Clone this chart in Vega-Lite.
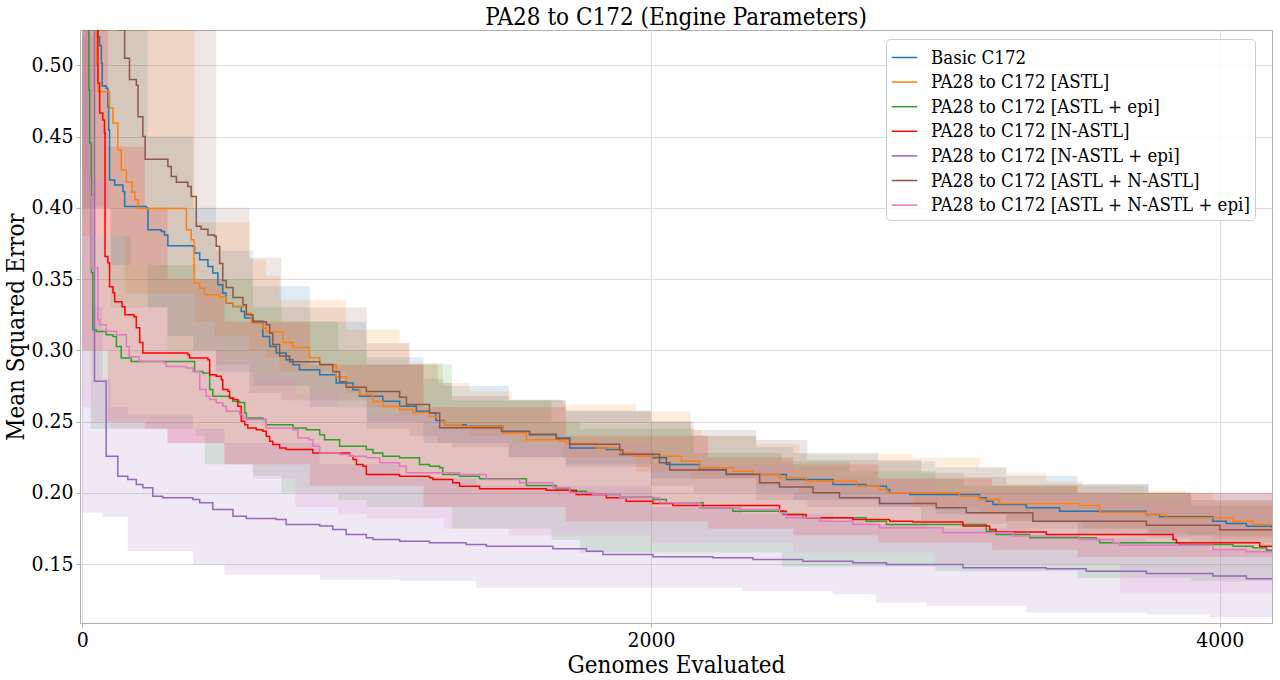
{
  "$schema": "https://vega.github.io/schema/vega-lite/v6.json",
  "width": 1192,
  "height": 593,
  "autosize": {"type": "none"},
  "padding": {"left": 80, "top": 30, "right": 8, "bottom": 57},
  "title": {"text": "PA28 to C172 (Engine Parameters)", "font": "DejaVu Serif Condensed", "fontSize": 24, "fontWeight": "normal", "color": "#000000", "offset": 0},
  "config": {
    "font": "DejaVu Serif Condensed",
    "view": {"stroke": "#b0b0b0", "strokeWidth": 1},
    "axis": {
      "labelFont": "DejaVu Serif Condensed", "labelFontSize": 21, "labelColor": "#000000",
      "titleFont": "DejaVu Serif Condensed", "titleFontSize": 24, "titleFontWeight": "normal", "titleColor": "#000000",
      "gridColor": "#dcdcdc", "gridWidth": 1, "domain": false,
      "tickColor": "#b0b0b0", "tickSize": 4
    }
  },
  "datasets": {
    "bands": [
      {"run": "Basic C172", "x": 0, "lo": 0.40, "hi": 0.60},
      {"run": "Basic C172", "x": 100, "lo": 0.36, "hi": 0.60},
      {"run": "Basic C172", "x": 230, "lo": 0.33, "hi": 0.45},
      {"run": "Basic C172", "x": 300, "lo": 0.31, "hi": 0.45},
      {"run": "Basic C172", "x": 390, "lo": 0.30, "hi": 0.40},
      {"run": "Basic C172", "x": 470, "lo": 0.285, "hi": 0.37},
      {"run": "Basic C172", "x": 600, "lo": 0.275, "hi": 0.345},
      {"run": "Basic C172", "x": 800, "lo": 0.26, "hi": 0.32},
      {"run": "Basic C172", "x": 1000, "lo": 0.25, "hi": 0.295},
      {"run": "Basic C172", "x": 1200, "lo": 0.235, "hi": 0.28},
      {"run": "Basic C172", "x": 1270, "lo": 0.235, "hi": 0.275},
      {"run": "Basic C172", "x": 1500, "lo": 0.225, "hi": 0.265},
      {"run": "Basic C172", "x": 1700, "lo": 0.22, "hi": 0.258},
      {"run": "Basic C172", "x": 2000, "lo": 0.21, "hi": 0.25},
      {"run": "Basic C172", "x": 2140, "lo": 0.21, "hi": 0.24},
      {"run": "Basic C172", "x": 2370, "lo": 0.20, "hi": 0.232},
      {"run": "Basic C172", "x": 2500, "lo": 0.195, "hi": 0.228},
      {"run": "Basic C172", "x": 2800, "lo": 0.19, "hi": 0.222},
      {"run": "Basic C172", "x": 3000, "lo": 0.185, "hi": 0.218},
      {"run": "Basic C172", "x": 3250, "lo": 0.18, "hi": 0.212},
      {"run": "Basic C172", "x": 3500, "lo": 0.175, "hi": 0.206},
      {"run": "Basic C172", "x": 3750, "lo": 0.17, "hi": 0.20},
      {"run": "Basic C172", "x": 4184, "lo": 0.165, "hi": 0.19},

      {"run": "PA28 to C172 [ASTL]", "x": 0, "lo": 0.38, "hi": 0.60},
      {"run": "PA28 to C172 [ASTL]", "x": 150, "lo": 0.34, "hi": 0.60},
      {"run": "PA28 to C172 [ASTL]", "x": 395, "lo": 0.32, "hi": 0.39},
      {"run": "PA28 to C172 [ASTL]", "x": 465, "lo": 0.31, "hi": 0.39},
      {"run": "PA28 to C172 [ASTL]", "x": 588, "lo": 0.30, "hi": 0.3635},
      {"run": "PA28 to C172 [ASTL]", "x": 646, "lo": 0.295, "hi": 0.352},
      {"run": "PA28 to C172 [ASTL]", "x": 694, "lo": 0.285, "hi": 0.3355},
      {"run": "PA28 to C172 [ASTL]", "x": 928, "lo": 0.27, "hi": 0.3144},
      {"run": "PA28 to C172 [ASTL]", "x": 1000, "lo": 0.26, "hi": 0.3144},
      {"run": "PA28 to C172 [ASTL]", "x": 1116, "lo": 0.255, "hi": 0.305},
      {"run": "PA28 to C172 [ASTL]", "x": 1151, "lo": 0.255, "hi": 0.291},
      {"run": "PA28 to C172 [ASTL]", "x": 1268, "lo": 0.245, "hi": 0.277},
      {"run": "PA28 to C172 [ASTL]", "x": 1362, "lo": 0.24, "hi": 0.271},
      {"run": "PA28 to C172 [ASTL]", "x": 1509, "lo": 0.235, "hi": 0.2654},
      {"run": "PA28 to C172 [ASTL]", "x": 1690, "lo": 0.225, "hi": 0.262},
      {"run": "PA28 to C172 [ASTL]", "x": 1948, "lo": 0.215, "hi": 0.257},
      {"run": "PA28 to C172 [ASTL]", "x": 2141, "lo": 0.21, "hi": 0.2443},
      {"run": "PA28 to C172 [ASTL]", "x": 2177, "lo": 0.21, "hi": 0.2397},
      {"run": "PA28 to C172 [ASTL]", "x": 2370, "lo": 0.205, "hi": 0.234},
      {"run": "PA28 to C172 [ASTL]", "x": 2522, "lo": 0.20, "hi": 0.2268},
      {"run": "PA28 to C172 [ASTL]", "x": 2921, "lo": 0.19, "hi": 0.2245},
      {"run": "PA28 to C172 [ASTL]", "x": 3155, "lo": 0.185, "hi": 0.2175},
      {"run": "PA28 to C172 [ASTL]", "x": 3249, "lo": 0.18, "hi": 0.214},
      {"run": "PA28 to C172 [ASTL]", "x": 3390, "lo": 0.18, "hi": 0.2081},
      {"run": "PA28 to C172 [ASTL]", "x": 3519, "lo": 0.175, "hi": 0.2046},
      {"run": "PA28 to C172 [ASTL]", "x": 3742, "lo": 0.172, "hi": 0.201},
      {"run": "PA28 to C172 [ASTL]", "x": 3883, "lo": 0.17, "hi": 0.20},
      {"run": "PA28 to C172 [ASTL]", "x": 3976, "lo": 0.168, "hi": 0.194},
      {"run": "PA28 to C172 [ASTL]", "x": 4184, "lo": 0.168, "hi": 0.194},

      {"run": "PA28 to C172 [ASTL + epi]", "x": 0, "lo": 0.30, "hi": 0.55},
      {"run": "PA28 to C172 [ASTL + epi]", "x": 30, "lo": 0.245, "hi": 0.38},
      {"run": "PA28 to C172 [ASTL + epi]", "x": 170, "lo": 0.245, "hi": 0.36},
      {"run": "PA28 to C172 [ASTL + epi]", "x": 400, "lo": 0.24, "hi": 0.35},
      {"run": "PA28 to C172 [ASTL + epi]", "x": 430, "lo": 0.22, "hi": 0.35},
      {"run": "PA28 to C172 [ASTL + epi]", "x": 600, "lo": 0.212, "hi": 0.33},
      {"run": "PA28 to C172 [ASTL + epi]", "x": 700, "lo": 0.20, "hi": 0.32},
      {"run": "PA28 to C172 [ASTL + epi]", "x": 900, "lo": 0.195, "hi": 0.30},
      {"run": "PA28 to C172 [ASTL + epi]", "x": 1000, "lo": 0.19, "hi": 0.29},
      {"run": "PA28 to C172 [ASTL + epi]", "x": 1300, "lo": 0.175, "hi": 0.265},
      {"run": "PA28 to C172 [ASTL + epi]", "x": 1650, "lo": 0.167, "hi": 0.25},
      {"run": "PA28 to C172 [ASTL + epi]", "x": 1750, "lo": 0.158, "hi": 0.245},
      {"run": "PA28 to C172 [ASTL + epi]", "x": 2150, "lo": 0.158, "hi": 0.228},
      {"run": "PA28 to C172 [ASTL + epi]", "x": 2460, "lo": 0.148, "hi": 0.222},
      {"run": "PA28 to C172 [ASTL + epi]", "x": 2700, "lo": 0.148, "hi": 0.215},
      {"run": "PA28 to C172 [ASTL + epi]", "x": 3000, "lo": 0.145, "hi": 0.21},
      {"run": "PA28 to C172 [ASTL + epi]", "x": 3100, "lo": 0.145, "hi": 0.205},
      {"run": "PA28 to C172 [ASTL + epi]", "x": 3500, "lo": 0.14, "hi": 0.20},
      {"run": "PA28 to C172 [ASTL + epi]", "x": 3900, "lo": 0.138, "hi": 0.195},
      {"run": "PA28 to C172 [ASTL + epi]", "x": 4184, "lo": 0.138, "hi": 0.19},

      {"run": "PA28 to C172 [N-ASTL]", "x": 0, "lo": 0.30, "hi": 0.60},
      {"run": "PA28 to C172 [N-ASTL]", "x": 90, "lo": 0.25, "hi": 0.443},
      {"run": "PA28 to C172 [N-ASTL]", "x": 220, "lo": 0.245, "hi": 0.40},
      {"run": "PA28 to C172 [N-ASTL]", "x": 300, "lo": 0.235, "hi": 0.35},
      {"run": "PA28 to C172 [N-ASTL]", "x": 500, "lo": 0.22, "hi": 0.32},
      {"run": "PA28 to C172 [N-ASTL]", "x": 800, "lo": 0.205, "hi": 0.29},
      {"run": "PA28 to C172 [N-ASTL]", "x": 1200, "lo": 0.19, "hi": 0.26},
      {"run": "PA28 to C172 [N-ASTL]", "x": 1700, "lo": 0.18, "hi": 0.24},
      {"run": "PA28 to C172 [N-ASTL]", "x": 2200, "lo": 0.175, "hi": 0.225},
      {"run": "PA28 to C172 [N-ASTL]", "x": 2500, "lo": 0.17, "hi": 0.22},
      {"run": "PA28 to C172 [N-ASTL]", "x": 2800, "lo": 0.165, "hi": 0.21},
      {"run": "PA28 to C172 [N-ASTL]", "x": 3200, "lo": 0.16, "hi": 0.205},
      {"run": "PA28 to C172 [N-ASTL]", "x": 3500, "lo": 0.155, "hi": 0.20},
      {"run": "PA28 to C172 [N-ASTL]", "x": 4184, "lo": 0.155, "hi": 0.19},

      {"run": "PA28 to C172 [N-ASTL + epi]", "x": 0, "lo": 0.186, "hi": 0.52},
      {"run": "PA28 to C172 [N-ASTL + epi]", "x": 40, "lo": 0.186, "hi": 0.33},
      {"run": "PA28 to C172 [N-ASTL + epi]", "x": 72, "lo": 0.183, "hi": 0.28},
      {"run": "PA28 to C172 [N-ASTL + epi]", "x": 100, "lo": 0.183, "hi": 0.26},
      {"run": "PA28 to C172 [N-ASTL + epi]", "x": 160, "lo": 0.159, "hi": 0.255},
      {"run": "PA28 to C172 [N-ASTL + epi]", "x": 389, "lo": 0.1497, "hi": 0.245},
      {"run": "PA28 to C172 [N-ASTL + epi]", "x": 500, "lo": 0.1427, "hi": 0.235},
      {"run": "PA28 to C172 [N-ASTL + epi]", "x": 835, "lo": 0.139, "hi": 0.22},
      {"run": "PA28 to C172 [N-ASTL + epi]", "x": 1116, "lo": 0.138, "hi": 0.21},
      {"run": "PA28 to C172 [N-ASTL + epi]", "x": 1386, "lo": 0.1334, "hi": 0.205},
      {"run": "PA28 to C172 [N-ASTL + epi]", "x": 2000, "lo": 0.1334, "hi": 0.19},
      {"run": "PA28 to C172 [N-ASTL + epi]", "x": 2322, "lo": 0.131, "hi": 0.185},
      {"run": "PA28 to C172 [N-ASTL + epi]", "x": 2640, "lo": 0.1287, "hi": 0.18},
      {"run": "PA28 to C172 [N-ASTL + epi]", "x": 2792, "lo": 0.123, "hi": 0.178},
      {"run": "PA28 to C172 [N-ASTL + epi]", "x": 2968, "lo": 0.1205, "hi": 0.175},
      {"run": "PA28 to C172 [N-ASTL + epi]", "x": 3320, "lo": 0.1159, "hi": 0.168},
      {"run": "PA28 to C172 [N-ASTL + epi]", "x": 3742, "lo": 0.1147, "hi": 0.165},
      {"run": "PA28 to C172 [N-ASTL + epi]", "x": 3965, "lo": 0.1124, "hi": 0.16},
      {"run": "PA28 to C172 [N-ASTL + epi]", "x": 4184, "lo": 0.1124, "hi": 0.16},

      {"run": "PA28 to C172 [ASTL + N-ASTL]", "x": 0, "lo": 0.40, "hi": 0.60},
      {"run": "PA28 to C172 [ASTL + N-ASTL]", "x": 100, "lo": 0.33, "hi": 0.60},
      {"run": "PA28 to C172 [ASTL + N-ASTL]", "x": 300, "lo": 0.30, "hi": 0.60},
      {"run": "PA28 to C172 [ASTL + N-ASTL]", "x": 471, "lo": 0.29, "hi": 0.40},
      {"run": "PA28 to C172 [ASTL + N-ASTL]", "x": 588, "lo": 0.27, "hi": 0.365},
      {"run": "PA28 to C172 [ASTL + N-ASTL]", "x": 700, "lo": 0.265, "hi": 0.33},
      {"run": "PA28 to C172 [ASTL + N-ASTL]", "x": 1000, "lo": 0.245, "hi": 0.305},
      {"run": "PA28 to C172 [ASTL + N-ASTL]", "x": 1150, "lo": 0.24, "hi": 0.29},
      {"run": "PA28 to C172 [ASTL + N-ASTL]", "x": 1250, "lo": 0.235, "hi": 0.277},
      {"run": "PA28 to C172 [ASTL + N-ASTL]", "x": 1300, "lo": 0.232, "hi": 0.268},
      {"run": "PA28 to C172 [ASTL + N-ASTL]", "x": 1500, "lo": 0.225, "hi": 0.265},
      {"run": "PA28 to C172 [ASTL + N-ASTL]", "x": 1700, "lo": 0.218, "hi": 0.257},
      {"run": "PA28 to C172 [ASTL + N-ASTL]", "x": 2000, "lo": 0.205, "hi": 0.25},
      {"run": "PA28 to C172 [ASTL + N-ASTL]", "x": 2150, "lo": 0.20, "hi": 0.244},
      {"run": "PA28 to C172 [ASTL + N-ASTL]", "x": 2370, "lo": 0.195, "hi": 0.237},
      {"run": "PA28 to C172 [ASTL + N-ASTL]", "x": 2550, "lo": 0.19, "hi": 0.223},
      {"run": "PA28 to C172 [ASTL + N-ASTL]", "x": 2950, "lo": 0.18, "hi": 0.214},
      {"run": "PA28 to C172 [ASTL + N-ASTL]", "x": 3100, "lo": 0.178, "hi": 0.211},
      {"run": "PA28 to C172 [ASTL + N-ASTL]", "x": 3250, "lo": 0.175, "hi": 0.206},
      {"run": "PA28 to C172 [ASTL + N-ASTL]", "x": 3500, "lo": 0.17, "hi": 0.206},
      {"run": "PA28 to C172 [ASTL + N-ASTL]", "x": 3750, "lo": 0.168, "hi": 0.20},
      {"run": "PA28 to C172 [ASTL + N-ASTL]", "x": 3900, "lo": 0.165, "hi": 0.191},
      {"run": "PA28 to C172 [ASTL + N-ASTL]", "x": 4184, "lo": 0.16, "hi": 0.19},

      {"run": "PA28 to C172 [ASTL + N-ASTL + epi]", "x": 0, "lo": 0.26, "hi": 0.55},
      {"run": "PA28 to C172 [ASTL + N-ASTL + epi]", "x": 30, "lo": 0.25, "hi": 0.42},
      {"run": "PA28 to C172 [ASTL + N-ASTL + epi]", "x": 100, "lo": 0.245, "hi": 0.33},
      {"run": "PA28 to C172 [ASTL + N-ASTL + epi]", "x": 300, "lo": 0.235, "hi": 0.30},
      {"run": "PA28 to C172 [ASTL + N-ASTL + epi]", "x": 500, "lo": 0.22, "hi": 0.29},
      {"run": "PA28 to C172 [ASTL + N-ASTL + epi]", "x": 600, "lo": 0.21, "hi": 0.28},
      {"run": "PA28 to C172 [ASTL + N-ASTL + epi]", "x": 750, "lo": 0.19, "hi": 0.27},
      {"run": "PA28 to C172 [ASTL + N-ASTL + epi]", "x": 900, "lo": 0.185, "hi": 0.26},
      {"run": "PA28 to C172 [ASTL + N-ASTL + epi]", "x": 1000, "lo": 0.182, "hi": 0.255},
      {"run": "PA28 to C172 [ASTL + N-ASTL + epi]", "x": 1270, "lo": 0.175, "hi": 0.245},
      {"run": "PA28 to C172 [ASTL + N-ASTL + epi]", "x": 1500, "lo": 0.17, "hi": 0.235},
      {"run": "PA28 to C172 [ASTL + N-ASTL + epi]", "x": 2000, "lo": 0.165, "hi": 0.22},
      {"run": "PA28 to C172 [ASTL + N-ASTL + epi]", "x": 2500, "lo": 0.158, "hi": 0.21},
      {"run": "PA28 to C172 [ASTL + N-ASTL + epi]", "x": 3000, "lo": 0.15, "hi": 0.20},
      {"run": "PA28 to C172 [ASTL + N-ASTL + epi]", "x": 3650, "lo": 0.13, "hi": 0.195},
      {"run": "PA28 to C172 [ASTL + N-ASTL + epi]", "x": 4184, "lo": 0.13, "hi": 0.185}
    ],
    "lines": [
      {"series": "Basic C172", "x": 0, "y": 0.65},
      {"series": "Basic C172", "x": 55, "y": 0.52},
      {"series": "Basic C172", "x": 61, "y": 0.514},
      {"series": "Basic C172", "x": 67, "y": 0.5016},
      {"series": "Basic C172", "x": 70, "y": 0.4855},
      {"series": "Basic C172", "x": 84, "y": 0.484},
      {"series": "Basic C172", "x": 90, "y": 0.471},
      {"series": "Basic C172", "x": 93, "y": 0.4546},
      {"series": "Basic C172", "x": 96, "y": 0.4196},
      {"series": "Basic C172", "x": 114, "y": 0.416},
      {"series": "Basic C172", "x": 143, "y": 0.4114},
      {"series": "Basic C172", "x": 149, "y": 0.4009},
      {"series": "Basic C172", "x": 225, "y": 0.3998},
      {"series": "Basic C172", "x": 231, "y": 0.3846},
      {"series": "Basic C172", "x": 278, "y": 0.3833},
      {"series": "Basic C172", "x": 289, "y": 0.381},
      {"series": "Basic C172", "x": 301, "y": 0.3733},
      {"series": "Basic C172", "x": 389, "y": 0.3728},
      {"series": "Basic C172", "x": 395, "y": 0.3682},
      {"series": "Basic C172", "x": 413, "y": 0.3635},
      {"series": "Basic C172", "x": 442, "y": 0.3588},
      {"series": "Basic C172", "x": 459, "y": 0.3542},
      {"series": "Basic C172", "x": 477, "y": 0.346},
      {"series": "Basic C172", "x": 494, "y": 0.3402},
      {"series": "Basic C172", "x": 506, "y": 0.3332},
      {"series": "Basic C172", "x": 530, "y": 0.3308},
      {"series": "Basic C172", "x": 559, "y": 0.3273},
      {"series": "Basic C172", "x": 571, "y": 0.3226},
      {"series": "Basic C172", "x": 600, "y": 0.3203},
      {"series": "Basic C172", "x": 635, "y": 0.3097},
      {"series": "Basic C172", "x": 659, "y": 0.3027},
      {"series": "Basic C172", "x": 682, "y": 0.2981},
      {"series": "Basic C172", "x": 717, "y": 0.2934},
      {"series": "Basic C172", "x": 741, "y": 0.2899},
      {"series": "Basic C172", "x": 764, "y": 0.2863},
      {"series": "Basic C172", "x": 835, "y": 0.2829},
      {"series": "Basic C172", "x": 893, "y": 0.2771},
      {"series": "Basic C172", "x": 952, "y": 0.2723},
      {"series": "Basic C172", "x": 975, "y": 0.2677},
      {"series": "Basic C172", "x": 1057, "y": 0.2642},
      {"series": "Basic C172", "x": 1116, "y": 0.2607},
      {"series": "Basic C172", "x": 1175, "y": 0.2572},
      {"series": "Basic C172", "x": 1221, "y": 0.2562},
      {"series": "Basic C172", "x": 1243, "y": 0.2507},
      {"series": "Basic C172", "x": 1274, "y": 0.2478},
      {"series": "Basic C172", "x": 1350, "y": 0.2467},
      {"series": "Basic C172", "x": 1479, "y": 0.2431},
      {"series": "Basic C172", "x": 1573, "y": 0.2408},
      {"series": "Basic C172", "x": 1667, "y": 0.2385},
      {"series": "Basic C172", "x": 1714, "y": 0.2315},
      {"series": "Basic C172", "x": 1843, "y": 0.2303},
      {"series": "Basic C172", "x": 1890, "y": 0.2268},
      {"series": "Basic C172", "x": 2007, "y": 0.2245},
      {"series": "Basic C172", "x": 2054, "y": 0.2198},
      {"series": "Basic C172", "x": 2171, "y": 0.2163},
      {"series": "Basic C172", "x": 2265, "y": 0.2128},
      {"series": "Basic C172", "x": 2476, "y": 0.2093},
      {"series": "Basic C172", "x": 2640, "y": 0.2058},
      {"series": "Basic C172", "x": 2757, "y": 0.2046},
      {"series": "Basic C172", "x": 2828, "y": 0.2023},
      {"series": "Basic C172", "x": 2839, "y": 0.2},
      {"series": "Basic C172", "x": 2910, "y": 0.1988},
      {"series": "Basic C172", "x": 3155, "y": 0.1965},
      {"series": "Basic C172", "x": 3179, "y": 0.1941},
      {"series": "Basic C172", "x": 3203, "y": 0.1918},
      {"series": "Basic C172", "x": 3320, "y": 0.1895},
      {"series": "Basic C172", "x": 3437, "y": 0.1871},
      {"series": "Basic C172", "x": 3742, "y": 0.1848},
      {"series": "Basic C172", "x": 3789, "y": 0.1831},
      {"series": "Basic C172", "x": 3976, "y": 0.18},
      {"series": "Basic C172", "x": 4023, "y": 0.1784},
      {"series": "Basic C172", "x": 4094, "y": 0.1765},
      {"series": "Basic C172", "x": 4184, "y": 0.1755},

      {"series": "PA28 to C172 [ASTL]", "x": 0, "y": 0.65},
      {"series": "PA28 to C172 [ASTL]", "x": 50, "y": 0.50},
      {"series": "PA28 to C172 [ASTL]", "x": 55, "y": 0.4815},
      {"series": "PA28 to C172 [ASTL]", "x": 96, "y": 0.47},
      {"series": "PA28 to C172 [ASTL]", "x": 108, "y": 0.4596},
      {"series": "PA28 to C172 [ASTL]", "x": 125, "y": 0.4406},
      {"series": "PA28 to C172 [ASTL]", "x": 137, "y": 0.4266},
      {"series": "PA28 to C172 [ASTL]", "x": 155, "y": 0.418},
      {"series": "PA28 to C172 [ASTL]", "x": 175, "y": 0.411},
      {"series": "PA28 to C172 [ASTL]", "x": 185, "y": 0.4056},
      {"series": "PA28 to C172 [ASTL]", "x": 196, "y": 0.3995},
      {"series": "PA28 to C172 [ASTL]", "x": 366, "y": 0.3846},
      {"series": "PA28 to C172 [ASTL]", "x": 383, "y": 0.3776},
      {"series": "PA28 to C172 [ASTL]", "x": 393, "y": 0.347},
      {"series": "PA28 to C172 [ASTL]", "x": 413, "y": 0.3436},
      {"series": "PA28 to C172 [ASTL]", "x": 430, "y": 0.339},
      {"series": "PA28 to C172 [ASTL]", "x": 483, "y": 0.3375},
      {"series": "PA28 to C172 [ASTL]", "x": 506, "y": 0.3333},
      {"series": "PA28 to C172 [ASTL]", "x": 530, "y": 0.3305},
      {"series": "PA28 to C172 [ASTL]", "x": 577, "y": 0.326},
      {"series": "PA28 to C172 [ASTL]", "x": 594, "y": 0.319},
      {"series": "PA28 to C172 [ASTL]", "x": 635, "y": 0.3156},
      {"series": "PA28 to C172 [ASTL]", "x": 647, "y": 0.313},
      {"series": "PA28 to C172 [ASTL]", "x": 706, "y": 0.3054},
      {"series": "PA28 to C172 [ASTL]", "x": 741, "y": 0.3019},
      {"series": "PA28 to C172 [ASTL]", "x": 799, "y": 0.2948},
      {"series": "PA28 to C172 [ASTL]", "x": 835, "y": 0.2899},
      {"series": "PA28 to C172 [ASTL]", "x": 893, "y": 0.2815},
      {"series": "PA28 to C172 [ASTL]", "x": 928, "y": 0.2745},
      {"series": "PA28 to C172 [ASTL]", "x": 975, "y": 0.2689},
      {"series": "PA28 to C172 [ASTL]", "x": 1022, "y": 0.264},
      {"series": "PA28 to C172 [ASTL]", "x": 1057, "y": 0.2605},
      {"series": "PA28 to C172 [ASTL]", "x": 1116, "y": 0.2584},
      {"series": "PA28 to C172 [ASTL]", "x": 1163, "y": 0.2563},
      {"series": "PA28 to C172 [ASTL]", "x": 1221, "y": 0.2535},
      {"series": "PA28 to C172 [ASTL]", "x": 1257, "y": 0.2502},
      {"series": "PA28 to C172 [ASTL]", "x": 1274, "y": 0.2478},
      {"series": "PA28 to C172 [ASTL]", "x": 1333, "y": 0.2466},
      {"series": "PA28 to C172 [ASTL]", "x": 1479, "y": 0.242},
      {"series": "PA28 to C172 [ASTL]", "x": 1562, "y": 0.2373},
      {"series": "PA28 to C172 [ASTL]", "x": 1679, "y": 0.2361},
      {"series": "PA28 to C172 [ASTL]", "x": 1702, "y": 0.2345},
      {"series": "PA28 to C172 [ASTL]", "x": 1808, "y": 0.2315},
      {"series": "PA28 to C172 [ASTL]", "x": 1890, "y": 0.228},
      {"series": "PA28 to C172 [ASTL]", "x": 1937, "y": 0.2256},
      {"series": "PA28 to C172 [ASTL]", "x": 2107, "y": 0.2221},
      {"series": "PA28 to C172 [ASTL]", "x": 2171, "y": 0.2175},
      {"series": "PA28 to C172 [ASTL]", "x": 2288, "y": 0.2151},
      {"series": "PA28 to C172 [ASTL]", "x": 2359, "y": 0.2128},
      {"series": "PA28 to C172 [ASTL]", "x": 2452, "y": 0.2105},
      {"series": "PA28 to C172 [ASTL]", "x": 2546, "y": 0.2081},
      {"series": "PA28 to C172 [ASTL]", "x": 2722, "y": 0.2046},
      {"series": "PA28 to C172 [ASTL]", "x": 2804, "y": 0.2023},
      {"series": "PA28 to C172 [ASTL]", "x": 2830, "y": 0.2},
      {"series": "PA28 to C172 [ASTL]", "x": 3085, "y": 0.1976},
      {"series": "PA28 to C172 [ASTL]", "x": 3155, "y": 0.1953},
      {"series": "PA28 to C172 [ASTL]", "x": 3226, "y": 0.1925},
      {"series": "PA28 to C172 [ASTL]", "x": 3507, "y": 0.1911},
      {"series": "PA28 to C172 [ASTL]", "x": 3578, "y": 0.1864},
      {"series": "PA28 to C172 [ASTL]", "x": 3742, "y": 0.1848},
      {"series": "PA28 to C172 [ASTL]", "x": 3812, "y": 0.1825},
      {"series": "PA28 to C172 [ASTL]", "x": 4047, "y": 0.18},
      {"series": "PA28 to C172 [ASTL]", "x": 4117, "y": 0.1777},
      {"series": "PA28 to C172 [ASTL]", "x": 4184, "y": 0.1772},

      {"series": "PA28 to C172 [ASTL + epi]", "x": 0, "y": 0.65},
      {"series": "PA28 to C172 [ASTL + epi]", "x": 19, "y": 0.525},
      {"series": "PA28 to C172 [ASTL + epi]", "x": 23, "y": 0.4827},
      {"series": "PA28 to C172 [ASTL + epi]", "x": 26, "y": 0.4455},
      {"series": "PA28 to C172 [ASTL + epi]", "x": 32, "y": 0.3544},
      {"series": "PA28 to C172 [ASTL + epi]", "x": 37, "y": 0.3144},
      {"series": "PA28 to C172 [ASTL + epi]", "x": 49, "y": 0.3132},
      {"series": "PA28 to C172 [ASTL + epi]", "x": 84, "y": 0.3109},
      {"series": "PA28 to C172 [ASTL + epi]", "x": 108, "y": 0.3097},
      {"series": "PA28 to C172 [ASTL + epi]", "x": 120, "y": 0.3027},
      {"series": "PA28 to C172 [ASTL + epi]", "x": 137, "y": 0.2946},
      {"series": "PA28 to C172 [ASTL + epi]", "x": 172, "y": 0.2922},
      {"series": "PA28 to C172 [ASTL + epi]", "x": 395, "y": 0.2852},
      {"series": "PA28 to C172 [ASTL + epi]", "x": 424, "y": 0.2841},
      {"series": "PA28 to C172 [ASTL + epi]", "x": 448, "y": 0.2724},
      {"series": "PA28 to C172 [ASTL + epi]", "x": 459, "y": 0.2677},
      {"series": "PA28 to C172 [ASTL + epi]", "x": 518, "y": 0.2666},
      {"series": "PA28 to C172 [ASTL + epi]", "x": 530, "y": 0.2642},
      {"series": "PA28 to C172 [ASTL + epi]", "x": 553, "y": 0.2633},
      {"series": "PA28 to C172 [ASTL + epi]", "x": 571, "y": 0.256},
      {"series": "PA28 to C172 [ASTL + epi]", "x": 577, "y": 0.2525},
      {"series": "PA28 to C172 [ASTL + epi]", "x": 635, "y": 0.2514},
      {"series": "PA28 to C172 [ASTL + epi]", "x": 647, "y": 0.2478},
      {"series": "PA28 to C172 [ASTL + epi]", "x": 741, "y": 0.2455},
      {"series": "PA28 to C172 [ASTL + epi]", "x": 788, "y": 0.2443},
      {"series": "PA28 to C172 [ASTL + epi]", "x": 835, "y": 0.2408},
      {"series": "PA28 to C172 [ASTL + epi]", "x": 852, "y": 0.2373},
      {"series": "PA28 to C172 [ASTL + epi]", "x": 905, "y": 0.2326},
      {"series": "PA28 to C172 [ASTL + epi]", "x": 999, "y": 0.2303},
      {"series": "PA28 to C172 [ASTL + epi]", "x": 1022, "y": 0.228},
      {"series": "PA28 to C172 [ASTL + epi]", "x": 1057, "y": 0.2256},
      {"series": "PA28 to C172 [ASTL + epi]", "x": 1116, "y": 0.2245},
      {"series": "PA28 to C172 [ASTL + epi]", "x": 1186, "y": 0.2198},
      {"series": "PA28 to C172 [ASTL + epi]", "x": 1221, "y": 0.2186},
      {"series": "PA28 to C172 [ASTL + epi]", "x": 1257, "y": 0.2175},
      {"series": "PA28 to C172 [ASTL + epi]", "x": 1268, "y": 0.2128},
      {"series": "PA28 to C172 [ASTL + epi]", "x": 1327, "y": 0.2116},
      {"series": "PA28 to C172 [ASTL + epi]", "x": 1397, "y": 0.2098},
      {"series": "PA28 to C172 [ASTL + epi]", "x": 1562, "y": 0.2051},
      {"series": "PA28 to C172 [ASTL + epi]", "x": 1667, "y": 0.2028},
      {"series": "PA28 to C172 [ASTL + epi]", "x": 1714, "y": 0.2011},
      {"series": "PA28 to C172 [ASTL + epi]", "x": 1773, "y": 0.1988},
      {"series": "PA28 to C172 [ASTL + epi]", "x": 1890, "y": 0.1969},
      {"series": "PA28 to C172 [ASTL + epi]", "x": 2007, "y": 0.1953},
      {"series": "PA28 to C172 [ASTL + epi]", "x": 2054, "y": 0.193},
      {"series": "PA28 to C172 [ASTL + epi]", "x": 2183, "y": 0.1894},
      {"series": "PA28 to C172 [ASTL + epi]", "x": 2288, "y": 0.1871},
      {"series": "PA28 to C172 [ASTL + epi]", "x": 2464, "y": 0.1848},
      {"series": "PA28 to C172 [ASTL + epi]", "x": 2534, "y": 0.1825},
      {"series": "PA28 to C172 [ASTL + epi]", "x": 2757, "y": 0.18},
      {"series": "PA28 to C172 [ASTL + epi]", "x": 2828, "y": 0.1777},
      {"series": "PA28 to C172 [ASTL + epi]", "x": 3179, "y": 0.173},
      {"series": "PA28 to C172 [ASTL + epi]", "x": 3214, "y": 0.1707},
      {"series": "PA28 to C172 [ASTL + epi]", "x": 3332, "y": 0.1684},
      {"series": "PA28 to C172 [ASTL + epi]", "x": 3566, "y": 0.1672},
      {"series": "PA28 to C172 [ASTL + epi]", "x": 3578, "y": 0.1649},
      {"series": "PA28 to C172 [ASTL + epi]", "x": 3859, "y": 0.1637},
      {"series": "PA28 to C172 [ASTL + epi]", "x": 4047, "y": 0.1625},
      {"series": "PA28 to C172 [ASTL + epi]", "x": 4117, "y": 0.1614},
      {"series": "PA28 to C172 [ASTL + epi]", "x": 4165, "y": 0.1597},
      {"series": "PA28 to C172 [ASTL + epi]", "x": 4184, "y": 0.1597},

      {"series": "PA28 to C172 [N-ASTL]", "x": 0, "y": 0.65},
      {"series": "PA28 to C172 [N-ASTL]", "x": 50, "y": 0.525},
      {"series": "PA28 to C172 [N-ASTL]", "x": 55, "y": 0.4876},
      {"series": "PA28 to C172 [N-ASTL]", "x": 61, "y": 0.4666},
      {"series": "PA28 to C172 [N-ASTL]", "x": 72, "y": 0.4617},
      {"series": "PA28 to C172 [N-ASTL]", "x": 78, "y": 0.4525},
      {"series": "PA28 to C172 [N-ASTL]", "x": 80, "y": 0.3658},
      {"series": "PA28 to C172 [N-ASTL]", "x": 90, "y": 0.3614},
      {"series": "PA28 to C172 [N-ASTL]", "x": 96, "y": 0.3446},
      {"series": "PA28 to C172 [N-ASTL]", "x": 108, "y": 0.3404},
      {"series": "PA28 to C172 [N-ASTL]", "x": 114, "y": 0.3341},
      {"series": "PA28 to C172 [N-ASTL]", "x": 140, "y": 0.3306},
      {"series": "PA28 to C172 [N-ASTL]", "x": 150, "y": 0.325},
      {"series": "PA28 to C172 [N-ASTL]", "x": 182, "y": 0.3236},
      {"series": "PA28 to C172 [N-ASTL]", "x": 190, "y": 0.3158},
      {"series": "PA28 to C172 [N-ASTL]", "x": 202, "y": 0.3054},
      {"series": "PA28 to C172 [N-ASTL]", "x": 213, "y": 0.2981},
      {"series": "PA28 to C172 [N-ASTL]", "x": 371, "y": 0.297},
      {"series": "PA28 to C172 [N-ASTL]", "x": 377, "y": 0.2946},
      {"series": "PA28 to C172 [N-ASTL]", "x": 442, "y": 0.2934},
      {"series": "PA28 to C172 [N-ASTL]", "x": 448, "y": 0.2829},
      {"series": "PA28 to C172 [N-ASTL]", "x": 471, "y": 0.2817},
      {"series": "PA28 to C172 [N-ASTL]", "x": 489, "y": 0.2794},
      {"series": "PA28 to C172 [N-ASTL]", "x": 494, "y": 0.2724},
      {"series": "PA28 to C172 [N-ASTL]", "x": 512, "y": 0.2712},
      {"series": "PA28 to C172 [N-ASTL]", "x": 518, "y": 0.2666},
      {"series": "PA28 to C172 [N-ASTL]", "x": 530, "y": 0.2654},
      {"series": "PA28 to C172 [N-ASTL]", "x": 547, "y": 0.2607},
      {"series": "PA28 to C172 [N-ASTL]", "x": 559, "y": 0.2502},
      {"series": "PA28 to C172 [N-ASTL]", "x": 571, "y": 0.2478},
      {"series": "PA28 to C172 [N-ASTL]", "x": 582, "y": 0.2455},
      {"series": "PA28 to C172 [N-ASTL]", "x": 612, "y": 0.2443},
      {"series": "PA28 to C172 [N-ASTL]", "x": 635, "y": 0.2431},
      {"series": "PA28 to C172 [N-ASTL]", "x": 647, "y": 0.2396},
      {"series": "PA28 to C172 [N-ASTL]", "x": 659, "y": 0.2361},
      {"series": "PA28 to C172 [N-ASTL]", "x": 670, "y": 0.2338},
      {"series": "PA28 to C172 [N-ASTL]", "x": 694, "y": 0.2315},
      {"series": "PA28 to C172 [N-ASTL]", "x": 717, "y": 0.2303},
      {"series": "PA28 to C172 [N-ASTL]", "x": 811, "y": 0.228},
      {"series": "PA28 to C172 [N-ASTL]", "x": 940, "y": 0.2256},
      {"series": "PA28 to C172 [N-ASTL]", "x": 952, "y": 0.2233},
      {"series": "PA28 to C172 [N-ASTL]", "x": 964, "y": 0.2198},
      {"series": "PA28 to C172 [N-ASTL]", "x": 987, "y": 0.2186},
      {"series": "PA28 to C172 [N-ASTL]", "x": 999, "y": 0.2128},
      {"series": "PA28 to C172 [N-ASTL]", "x": 1116, "y": 0.2116},
      {"series": "PA28 to C172 [N-ASTL]", "x": 1221, "y": 0.2105},
      {"series": "PA28 to C172 [N-ASTL]", "x": 1233, "y": 0.2093},
      {"series": "PA28 to C172 [N-ASTL]", "x": 1303, "y": 0.207},
      {"series": "PA28 to C172 [N-ASTL]", "x": 1327, "y": 0.2046},
      {"series": "PA28 to C172 [N-ASTL]", "x": 1397, "y": 0.2028},
      {"series": "PA28 to C172 [N-ASTL]", "x": 1632, "y": 0.2018},
      {"series": "PA28 to C172 [N-ASTL]", "x": 1737, "y": 0.1988},
      {"series": "PA28 to C172 [N-ASTL]", "x": 1843, "y": 0.1965},
      {"series": "PA28 to C172 [N-ASTL]", "x": 1913, "y": 0.1941},
      {"series": "PA28 to C172 [N-ASTL]", "x": 2007, "y": 0.1925},
      {"series": "PA28 to C172 [N-ASTL]", "x": 2077, "y": 0.1911},
      {"series": "PA28 to C172 [N-ASTL]", "x": 2452, "y": 0.1871},
      {"series": "PA28 to C172 [N-ASTL]", "x": 2476, "y": 0.1848},
      {"series": "PA28 to C172 [N-ASTL]", "x": 2546, "y": 0.1825},
      {"series": "PA28 to C172 [N-ASTL]", "x": 2710, "y": 0.1813},
      {"series": "PA28 to C172 [N-ASTL]", "x": 2839, "y": 0.1801},
      {"series": "PA28 to C172 [N-ASTL]", "x": 2921, "y": 0.1794},
      {"series": "PA28 to C172 [N-ASTL]", "x": 3097, "y": 0.1766},
      {"series": "PA28 to C172 [N-ASTL]", "x": 3191, "y": 0.1742},
      {"series": "PA28 to C172 [N-ASTL]", "x": 3214, "y": 0.1724},
      {"series": "PA28 to C172 [N-ASTL]", "x": 3390, "y": 0.1707},
      {"series": "PA28 to C172 [N-ASTL]", "x": 3836, "y": 0.1672},
      {"series": "PA28 to C172 [N-ASTL]", "x": 3848, "y": 0.1649},
      {"series": "PA28 to C172 [N-ASTL]", "x": 4141, "y": 0.1625},
      {"series": "PA28 to C172 [N-ASTL]", "x": 4184, "y": 0.1625},

      {"series": "PA28 to C172 [N-ASTL + epi]", "x": 0, "y": 0.65},
      {"series": "PA28 to C172 [N-ASTL + epi]", "x": 43, "y": 0.2782},
      {"series": "PA28 to C172 [N-ASTL + epi]", "x": 84, "y": 0.2256},
      {"series": "PA28 to C172 [N-ASTL + epi]", "x": 125, "y": 0.2116},
      {"series": "PA28 to C172 [N-ASTL + epi]", "x": 160, "y": 0.2093},
      {"series": "PA28 to C172 [N-ASTL + epi]", "x": 190, "y": 0.2058},
      {"series": "PA28 to C172 [N-ASTL + epi]", "x": 213, "y": 0.2035},
      {"series": "PA28 to C172 [N-ASTL + epi]", "x": 248, "y": 0.1976},
      {"series": "PA28 to C172 [N-ASTL + epi]", "x": 283, "y": 0.1965},
      {"series": "PA28 to C172 [N-ASTL + epi]", "x": 389, "y": 0.1953},
      {"series": "PA28 to C172 [N-ASTL + epi]", "x": 413, "y": 0.193},
      {"series": "PA28 to C172 [N-ASTL + epi]", "x": 459, "y": 0.1883},
      {"series": "PA28 to C172 [N-ASTL + epi]", "x": 530, "y": 0.1836},
      {"series": "PA28 to C172 [N-ASTL + epi]", "x": 577, "y": 0.182},
      {"series": "PA28 to C172 [N-ASTL + epi]", "x": 682, "y": 0.1812},
      {"series": "PA28 to C172 [N-ASTL + epi]", "x": 717, "y": 0.1777},
      {"series": "PA28 to C172 [N-ASTL + epi]", "x": 835, "y": 0.1766},
      {"series": "PA28 to C172 [N-ASTL + epi]", "x": 881, "y": 0.1742},
      {"series": "PA28 to C172 [N-ASTL + epi]", "x": 928, "y": 0.1707},
      {"series": "PA28 to C172 [N-ASTL + epi]", "x": 999, "y": 0.1684},
      {"series": "PA28 to C172 [N-ASTL + epi]", "x": 1022, "y": 0.1672},
      {"series": "PA28 to C172 [N-ASTL + epi]", "x": 1116, "y": 0.166},
      {"series": "PA28 to C172 [N-ASTL + epi]", "x": 1221, "y": 0.1649},
      {"series": "PA28 to C172 [N-ASTL + epi]", "x": 1350, "y": 0.1637},
      {"series": "PA28 to C172 [N-ASTL + epi]", "x": 1421, "y": 0.1625},
      {"series": "PA28 to C172 [N-ASTL + epi]", "x": 1655, "y": 0.1607},
      {"series": "PA28 to C172 [N-ASTL + epi]", "x": 1773, "y": 0.159},
      {"series": "PA28 to C172 [N-ASTL + epi]", "x": 1831, "y": 0.1567},
      {"series": "PA28 to C172 [N-ASTL + epi]", "x": 2007, "y": 0.1551},
      {"series": "PA28 to C172 [N-ASTL + epi]", "x": 2218, "y": 0.1544},
      {"series": "PA28 to C172 [N-ASTL + epi]", "x": 2359, "y": 0.1532},
      {"series": "PA28 to C172 [N-ASTL + epi]", "x": 2534, "y": 0.152},
      {"series": "PA28 to C172 [N-ASTL + epi]", "x": 2710, "y": 0.1509},
      {"series": "PA28 to C172 [N-ASTL + epi]", "x": 2828, "y": 0.1497},
      {"series": "PA28 to C172 [N-ASTL + epi]", "x": 3097, "y": 0.1474},
      {"series": "PA28 to C172 [N-ASTL + epi]", "x": 3390, "y": 0.1467},
      {"series": "PA28 to C172 [N-ASTL + epi]", "x": 3531, "y": 0.145},
      {"series": "PA28 to C172 [N-ASTL + epi]", "x": 3742, "y": 0.1434},
      {"series": "PA28 to C172 [N-ASTL + epi]", "x": 3976, "y": 0.1415},
      {"series": "PA28 to C172 [N-ASTL + epi]", "x": 4094, "y": 0.1397},
      {"series": "PA28 to C172 [N-ASTL + epi]", "x": 4184, "y": 0.139},

      {"series": "PA28 to C172 [ASTL + N-ASTL]", "x": 0, "y": 0.65},
      {"series": "PA28 to C172 [ASTL + N-ASTL]", "x": 121, "y": 0.525},
      {"series": "PA28 to C172 [ASTL + N-ASTL]", "x": 149, "y": 0.505},
      {"series": "PA28 to C172 [ASTL + N-ASTL]", "x": 166, "y": 0.49},
      {"series": "PA28 to C172 [ASTL + N-ASTL]", "x": 190, "y": 0.486},
      {"series": "PA28 to C172 [ASTL + N-ASTL]", "x": 196, "y": 0.464},
      {"series": "PA28 to C172 [ASTL + N-ASTL]", "x": 213, "y": 0.45},
      {"series": "PA28 to C172 [ASTL + N-ASTL]", "x": 221, "y": 0.434},
      {"series": "PA28 to C172 [ASTL + N-ASTL]", "x": 301, "y": 0.429},
      {"series": "PA28 to C172 [ASTL + N-ASTL]", "x": 313, "y": 0.422},
      {"series": "PA28 to C172 [ASTL + N-ASTL]", "x": 331, "y": 0.418},
      {"series": "PA28 to C172 [ASTL + N-ASTL]", "x": 371, "y": 0.415},
      {"series": "PA28 to C172 [ASTL + N-ASTL]", "x": 383, "y": 0.408},
      {"series": "PA28 to C172 [ASTL + N-ASTL]", "x": 401, "y": 0.387},
      {"series": "PA28 to C172 [ASTL + N-ASTL]", "x": 418, "y": 0.385},
      {"series": "PA28 to C172 [ASTL + N-ASTL]", "x": 442, "y": 0.381},
      {"series": "PA28 to C172 [ASTL + N-ASTL]", "x": 465, "y": 0.38},
      {"series": "PA28 to C172 [ASTL + N-ASTL]", "x": 471, "y": 0.373},
      {"series": "PA28 to C172 [ASTL + N-ASTL]", "x": 483, "y": 0.361},
      {"series": "PA28 to C172 [ASTL + N-ASTL]", "x": 494, "y": 0.349},
      {"series": "PA28 to C172 [ASTL + N-ASTL]", "x": 506, "y": 0.344},
      {"series": "PA28 to C172 [ASTL + N-ASTL]", "x": 530, "y": 0.337},
      {"series": "PA28 to C172 [ASTL + N-ASTL]", "x": 565, "y": 0.332},
      {"series": "PA28 to C172 [ASTL + N-ASTL]", "x": 577, "y": 0.325},
      {"series": "PA28 to C172 [ASTL + N-ASTL]", "x": 600, "y": 0.32},
      {"series": "PA28 to C172 [ASTL + N-ASTL]", "x": 647, "y": 0.318},
      {"series": "PA28 to C172 [ASTL + N-ASTL]", "x": 659, "y": 0.312},
      {"series": "PA28 to C172 [ASTL + N-ASTL]", "x": 670, "y": 0.304},
      {"series": "PA28 to C172 [ASTL + N-ASTL]", "x": 694, "y": 0.296},
      {"series": "PA28 to C172 [ASTL + N-ASTL]", "x": 729, "y": 0.292},
      {"series": "PA28 to C172 [ASTL + N-ASTL]", "x": 835, "y": 0.29},
      {"series": "PA28 to C172 [ASTL + N-ASTL]", "x": 881, "y": 0.285},
      {"series": "PA28 to C172 [ASTL + N-ASTL]", "x": 905, "y": 0.278},
      {"series": "PA28 to C172 [ASTL + N-ASTL]", "x": 928, "y": 0.274},
      {"series": "PA28 to C172 [ASTL + N-ASTL]", "x": 999, "y": 0.271},
      {"series": "PA28 to C172 [ASTL + N-ASTL]", "x": 1116, "y": 0.267},
      {"series": "PA28 to C172 [ASTL + N-ASTL]", "x": 1140, "y": 0.262},
      {"series": "PA28 to C172 [ASTL + N-ASTL]", "x": 1221, "y": 0.256},
      {"series": "PA28 to C172 [ASTL + N-ASTL]", "x": 1257, "y": 0.2457},
      {"series": "PA28 to C172 [ASTL + N-ASTL]", "x": 1474, "y": 0.243},
      {"series": "PA28 to C172 [ASTL + N-ASTL]", "x": 1573, "y": 0.241},
      {"series": "PA28 to C172 [ASTL + N-ASTL]", "x": 1667, "y": 0.238},
      {"series": "PA28 to C172 [ASTL + N-ASTL]", "x": 1714, "y": 0.234},
      {"series": "PA28 to C172 [ASTL + N-ASTL]", "x": 1890, "y": 0.23},
      {"series": "PA28 to C172 [ASTL + N-ASTL]", "x": 1901, "y": 0.227},
      {"series": "PA28 to C172 [ASTL + N-ASTL]", "x": 2030, "y": 0.221},
      {"series": "PA28 to C172 [ASTL + N-ASTL]", "x": 2066, "y": 0.216},
      {"series": "PA28 to C172 [ASTL + N-ASTL]", "x": 2265, "y": 0.213},
      {"series": "PA28 to C172 [ASTL + N-ASTL]", "x": 2382, "y": 0.207},
      {"series": "PA28 to C172 [ASTL + N-ASTL]", "x": 2452, "y": 0.204},
      {"series": "PA28 to C172 [ASTL + N-ASTL]", "x": 2570, "y": 0.2},
      {"series": "PA28 to C172 [ASTL + N-ASTL]", "x": 2663, "y": 0.1965},
      {"series": "PA28 to C172 [ASTL + N-ASTL]", "x": 2804, "y": 0.1925},
      {"series": "PA28 to C172 [ASTL + N-ASTL]", "x": 3003, "y": 0.1895},
      {"series": "PA28 to C172 [ASTL + N-ASTL]", "x": 3109, "y": 0.186},
      {"series": "PA28 to C172 [ASTL + N-ASTL]", "x": 3343, "y": 0.18},
      {"series": "PA28 to C172 [ASTL + N-ASTL]", "x": 3742, "y": 0.1772},
      {"series": "PA28 to C172 [ASTL + N-ASTL]", "x": 4000, "y": 0.174},
      {"series": "PA28 to C172 [ASTL + N-ASTL]", "x": 4184, "y": 0.1735},

      {"series": "PA28 to C172 [ASTL + N-ASTL + epi]", "x": 0, "y": 0.65},
      {"series": "PA28 to C172 [ASTL + N-ASTL + epi]", "x": 14, "y": 0.4245},
      {"series": "PA28 to C172 [ASTL + N-ASTL + epi]", "x": 20, "y": 0.4196},
      {"series": "PA28 to C172 [ASTL + N-ASTL + epi]", "x": 28, "y": 0.4077},
      {"series": "PA28 to C172 [ASTL + N-ASTL + epi]", "x": 33, "y": 0.358},
      {"series": "PA28 to C172 [ASTL + N-ASTL + epi]", "x": 55, "y": 0.3215},
      {"series": "PA28 to C172 [ASTL + N-ASTL + epi]", "x": 61, "y": 0.318},
      {"series": "PA28 to C172 [ASTL + N-ASTL + epi]", "x": 84, "y": 0.3133},
      {"series": "PA28 to C172 [ASTL + N-ASTL + epi]", "x": 120, "y": 0.3109},
      {"series": "PA28 to C172 [ASTL + N-ASTL + epi]", "x": 155, "y": 0.3027},
      {"series": "PA28 to C172 [ASTL + N-ASTL + epi]", "x": 165, "y": 0.2955},
      {"series": "PA28 to C172 [ASTL + N-ASTL + epi]", "x": 200, "y": 0.2922},
      {"series": "PA28 to C172 [ASTL + N-ASTL + epi]", "x": 289, "y": 0.2911},
      {"series": "PA28 to C172 [ASTL + N-ASTL + epi]", "x": 295, "y": 0.2887},
      {"series": "PA28 to C172 [ASTL + N-ASTL + epi]", "x": 366, "y": 0.2876},
      {"series": "PA28 to C172 [ASTL + N-ASTL + epi]", "x": 389, "y": 0.2852},
      {"series": "PA28 to C172 [ASTL + N-ASTL + epi]", "x": 413, "y": 0.2724},
      {"series": "PA28 to C172 [ASTL + N-ASTL + epi]", "x": 436, "y": 0.2677},
      {"series": "PA28 to C172 [ASTL + N-ASTL + epi]", "x": 448, "y": 0.2654},
      {"series": "PA28 to C172 [ASTL + N-ASTL + epi]", "x": 471, "y": 0.2631},
      {"series": "PA28 to C172 [ASTL + N-ASTL + epi]", "x": 494, "y": 0.2607},
      {"series": "PA28 to C172 [ASTL + N-ASTL + epi]", "x": 506, "y": 0.2572},
      {"series": "PA28 to C172 [ASTL + N-ASTL + epi]", "x": 553, "y": 0.2549},
      {"series": "PA28 to C172 [ASTL + N-ASTL + epi]", "x": 565, "y": 0.2525},
      {"series": "PA28 to C172 [ASTL + N-ASTL + epi]", "x": 577, "y": 0.2514},
      {"series": "PA28 to C172 [ASTL + N-ASTL + epi]", "x": 647, "y": 0.2455},
      {"series": "PA28 to C172 [ASTL + N-ASTL + epi]", "x": 741, "y": 0.2443},
      {"series": "PA28 to C172 [ASTL + N-ASTL + epi]", "x": 758, "y": 0.2385},
      {"series": "PA28 to C172 [ASTL + N-ASTL + epi]", "x": 799, "y": 0.2373},
      {"series": "PA28 to C172 [ASTL + N-ASTL + epi]", "x": 811, "y": 0.2326},
      {"series": "PA28 to C172 [ASTL + N-ASTL + epi]", "x": 835, "y": 0.228},
      {"series": "PA28 to C172 [ASTL + N-ASTL + epi]", "x": 905, "y": 0.2268},
      {"series": "PA28 to C172 [ASTL + N-ASTL + epi]", "x": 940, "y": 0.2256},
      {"series": "PA28 to C172 [ASTL + N-ASTL + epi]", "x": 999, "y": 0.2245},
      {"series": "PA28 to C172 [ASTL + N-ASTL + epi]", "x": 1046, "y": 0.221},
      {"series": "PA28 to C172 [ASTL + N-ASTL + epi]", "x": 1116, "y": 0.2186},
      {"series": "PA28 to C172 [ASTL + N-ASTL + epi]", "x": 1139, "y": 0.214},
      {"series": "PA28 to C172 [ASTL + N-ASTL + epi]", "x": 1327, "y": 0.2128},
      {"series": "PA28 to C172 [ASTL + N-ASTL + epi]", "x": 1421, "y": 0.2093},
      {"series": "PA28 to C172 [ASTL + N-ASTL + epi]", "x": 1538, "y": 0.207},
      {"series": "PA28 to C172 [ASTL + N-ASTL + epi]", "x": 1655, "y": 0.2035},
      {"series": "PA28 to C172 [ASTL + N-ASTL + epi]", "x": 1714, "y": 0.2},
      {"series": "PA28 to C172 [ASTL + N-ASTL + epi]", "x": 1796, "y": 0.1988},
      {"series": "PA28 to C172 [ASTL + N-ASTL + epi]", "x": 1890, "y": 0.1965},
      {"series": "PA28 to C172 [ASTL + N-ASTL + epi]", "x": 2031, "y": 0.193},
      {"series": "PA28 to C172 [ASTL + N-ASTL + epi]", "x": 2171, "y": 0.1894},
      {"series": "PA28 to C172 [ASTL + N-ASTL + epi]", "x": 2312, "y": 0.1883},
      {"series": "PA28 to C172 [ASTL + N-ASTL + epi]", "x": 2452, "y": 0.186},
      {"series": "PA28 to C172 [ASTL + N-ASTL + epi]", "x": 2476, "y": 0.1824},
      {"series": "PA28 to C172 [ASTL + N-ASTL + epi]", "x": 2593, "y": 0.18},
      {"series": "PA28 to C172 [ASTL + N-ASTL + epi]", "x": 2710, "y": 0.1777},
      {"series": "PA28 to C172 [ASTL + N-ASTL + epi]", "x": 2804, "y": 0.1754},
      {"series": "PA28 to C172 [ASTL + N-ASTL + epi]", "x": 3027, "y": 0.1719},
      {"series": "PA28 to C172 [ASTL + N-ASTL + epi]", "x": 3273, "y": 0.1696},
      {"series": "PA28 to C172 [ASTL + N-ASTL + epi]", "x": 3507, "y": 0.1672},
      {"series": "PA28 to C172 [ASTL + N-ASTL + epi]", "x": 3625, "y": 0.1649},
      {"series": "PA28 to C172 [ASTL + N-ASTL + epi]", "x": 3648, "y": 0.1632},
      {"series": "PA28 to C172 [ASTL + N-ASTL + epi]", "x": 3976, "y": 0.1602},
      {"series": "PA28 to C172 [ASTL + N-ASTL + epi]", "x": 4094, "y": 0.1586},
      {"series": "PA28 to C172 [ASTL + N-ASTL + epi]", "x": 4184, "y": 0.1579}
    ]
  },
  "layer": [
    {
      "data": {"name": "bands"},
      "mark": {"type": "area", "interpolate": "step-after", "fillOpacity": 0.15, "strokeWidth": 0, "clip": true},
      "encoding": {
        "x": {"field": "x", "type": "quantitative", "scale": {"domain": [-8, 4184], "nice": false, "zero": false},
              "axis": {"values": [0, 2000, 4000], "format": "d", "title": "Genomes Evaluated", "labelPadding": 2, "titlePadding": 3}},
        "y": {"field": "lo", "type": "quantitative", "scale": {"domain": [0.1086, 0.5248], "nice": false, "zero": false},
              "axis": {"values": [0.15, 0.2, 0.25, 0.3, 0.35, 0.4, 0.45, 0.5], "format": ".2f", "title": "Mean Squared Error", "labelPadding": 3, "titlePadding": 2}},
        "y2": {"field": "hi"},
        "fill": {"field": "run", "type": "nominal", "legend": null,
                 "scale": {"range": ["#1f77b4", "#e377c2", "#8c564b", "#2ca02c", "#ff7f0e", "#9467bd", "#ff0000"]}}
      }
    },
    {
      "data": {"name": "lines"},
      "mark": {"type": "line", "interpolate": "step-after", "strokeWidth": 1.5, "clip": true},
      "encoding": {
        "x": {"field": "x", "type": "quantitative"},
        "y": {"field": "y", "type": "quantitative"},
        "stroke": {"field": "series", "type": "nominal",
                   "scale": {"domain": ["Basic C172", "PA28 to C172 [ASTL]", "PA28 to C172 [ASTL + epi]", "PA28 to C172 [N-ASTL]", "PA28 to C172 [N-ASTL + epi]", "PA28 to C172 [ASTL + N-ASTL]", "PA28 to C172 [ASTL + N-ASTL + epi]"],
                             "range": ["#1f77b4", "#ff7f0e", "#2ca02c", "#ff0000", "#9467bd", "#8c564b", "#e377c2"]},
                   "legend": {"orient": "none", "legendX": 806, "legendY": 9, "title": null,
                              "symbolType": "stroke", "symbolStrokeWidth": 1.5, "symbolSize": 650,
                              "labelFont": "DejaVu Serif Condensed", "labelFontSize": 18.5, "labelColor": "#000000", "labelLimit": 400, "labelOffset": 13,
                              "padding": 5, "rowPadding": 1.6, "strokeColor": "#cccccc", "fillColor": "rgba(255,255,255,0.8)", "cornerRadius": 4}}
      }
    }
  ]
}
